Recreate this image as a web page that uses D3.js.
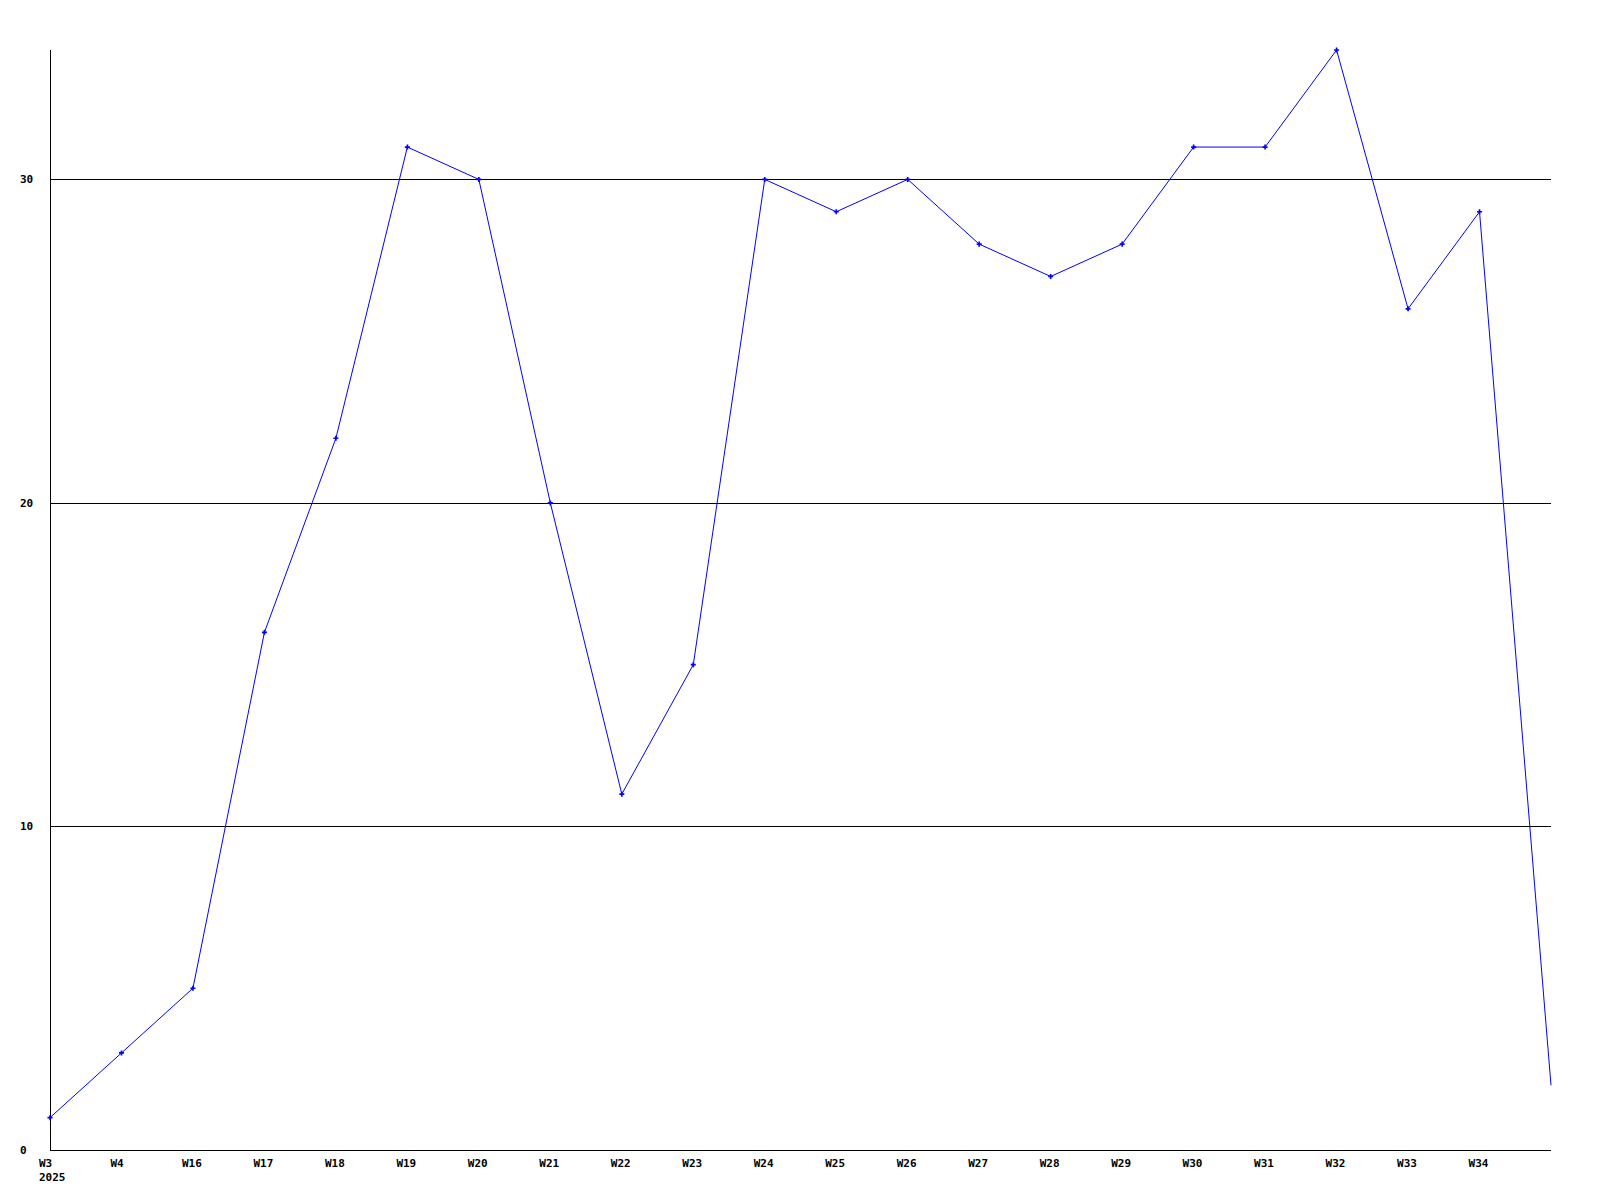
<!DOCTYPE html>
<html>
<head>
<meta charset="utf-8">
<script src="https://cdn.jsdelivr.net/npm/d3@7"></script>
<style>
html,body{margin:0;padding:0;background:#fff;}
svg{display:block;}
text{font-family:"DejaVu Sans Mono","Liberation Mono",monospace;font-weight:bold;font-size:11px;fill:#000;}
</style>
</head>
<body>
<svg id="chart" width="1600" height="1200"></svg>
<script>
const weeks = ["W3","W4","W16","W17","W18","W19","W20","W21","W22","W23","W24","W25","W26","W27","W28","W29","W30","W31","W32","W33","W34",""];
const values = [1,3,5,16,22,31,30,20,11,15,30,29,30,28,27,28,31,31,34,26,29,2];
const yTicks = [0,10,20,30];
const yearLabel = "2025";

(function () {
const svg = d3.select("#chart");
const mLeft = 50, mRight = 1551, mTop = 50, mBottom = 1150;
const x = d3.scaleLinear().domain([0, weeks.length - 1]).range([mLeft, mRight]);
const y = d3.scaleLinear().domain([0, 34]).range([mBottom, mTop]);

// gridlines
svg.append("g").selectAll("line").data(yTicks.filter(d => d > 0)).join("line")
  .attr("x1", mLeft).attr("x2", mRight)
  .attr("y1", d => Math.round(y(d)) + 0.5).attr("y2", d => Math.round(y(d)) + 0.5)
  .attr("stroke", "#000").attr("stroke-width", 1).attr("shape-rendering", "crispEdges");

// axes lines
svg.append("line").attr("x1", mLeft + 0.5).attr("x2", mLeft + 0.5).attr("y1", mTop).attr("y2", mBottom)
  .attr("stroke", "#000").attr("shape-rendering", "crispEdges");
svg.append("line").attr("x1", mLeft).attr("x2", mRight).attr("y1", mBottom + 0.5).attr("y2", mBottom + 0.5)
  .attr("stroke", "#000").attr("shape-rendering", "crispEdges");

// y labels
svg.append("g").selectAll("text").data(yTicks).join("text")
  .attr("x", 20).attr("y", d => y(d)).attr("dy", "0.35em")
  .text(d => d);

// x labels
svg.append("g").selectAll("text").data(weeks).join("text")
  .attr("x", (d, i) => x(i) - 11).attr("y", mBottom + 13).attr("dy", "0.35em")
  .text(d => d);
svg.append("text").attr("x", x(0) - 11).attr("y", mBottom + 27).attr("dy", "0.35em").text(yearLabel);

// line
const line = d3.line().x((d, i) => x(i)).y(d => y(d));
svg.append("path").datum(values).attr("d", line)
  .attr("fill", "none").attr("stroke", "#0000ff").attr("stroke-width", 1);

// markers (not on last point)
svg.append("g").selectAll("path").data(values.slice(0, values.length - 1)).join("path")
  .attr("transform", (d, i) => `translate(${x(i)},${y(d)})`)
  .attr("d", d3.symbol().type(d3.symbolCross).size(14))
  .attr("fill", "#0000ff");
})();
</script>
</body>
</html>
